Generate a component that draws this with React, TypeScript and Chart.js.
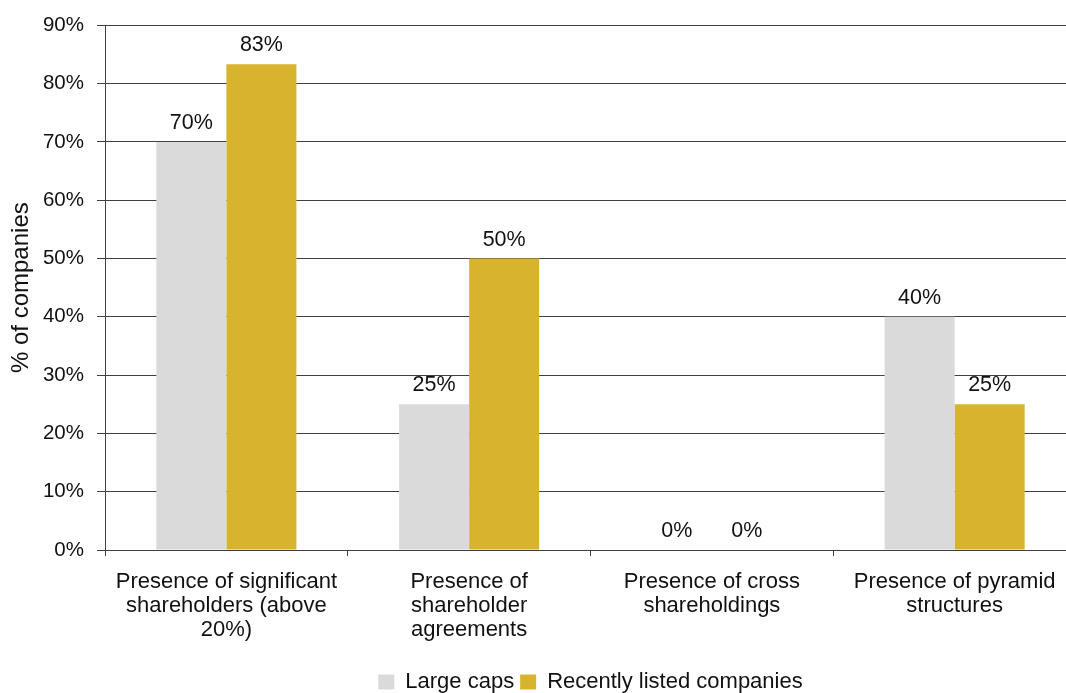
import React, { useEffect, useRef } from "react";
import { Chart, registerables } from "chart.js";

Chart.register(...registerables);

const categories: string[][] = [
  ["Presence of significant", "shareholders (above", "20%)"],
  ["Presence of", "shareholder", "agreements"],
  ["Presence of cross", "shareholdings"],
  ["Presence of pyramid", "structures"],
];
const seriesNames = ["Large caps", "Recently listed companies"];
const largeCaps = [70, 25, 0, 40];
const recentlyListed = [83.3, 50, 0, 25];
const yMin = 0;
const yMax = 90;
const yStep = 10;
const yTitle = "% of companies";

const FONT = "'Liberation Sans', Arial, Helvetica, sans-serif";
const TEXT = "#111111";
const LINE = "#404040";

const dataLabels = {
  id: "dataLabels",
  afterDatasetsDraw(chart: any) {
    const ctx = chart.ctx;
    ctx.save();
    ctx.font = `21.5px ${FONT}`;
    ctx.fillStyle = TEXT;
    ctx.textAlign = "center";
    ctx.textBaseline = "alphabetic";
    chart.data.datasets.forEach((ds: any, i: number) => {
      const meta = chart.getDatasetMeta(i);
      meta.data.forEach((el: any, j: number) => {
        const v = ds.data[j];
        ctx.fillText(Math.round(v) + "%", el.x, el.y - 13);
      });
    });
    ctx.restore();
  },
};

export default function App() {
  const ref = useRef<HTMLCanvasElement | null>(null);

  useEffect(() => {
    if (!ref.current) return;
    Chart.defaults.font.family = FONT;
    const chart = new Chart(ref.current, {
      type: "bar",
      data: {
        labels: categories,
        datasets: [
          {
            label: seriesNames[0],
            data: largeCaps,
            backgroundColor: "#dadada",
            borderWidth: 0,
            categoryPercentage: 0.577,
            barPercentage: 1,
          },
          {
            label: seriesNames[1],
            data: recentlyListed,
            backgroundColor: "#d8b32e",
            borderWidth: 0,
            categoryPercentage: 0.577,
            barPercentage: 1,
          },
        ],
      },
      options: {
        animation: false,
        responsive: false,
        devicePixelRatio: 1,
        layout: { padding: { top: 23, right: 4, bottom: 0, left: 0 } },
        plugins: {
          legend: {
            position: "bottom",
            fullSize: false,
            labels: {
              font: { size: 22, family: FONT },
              color: TEXT,
              boxWidth: 16,
              boxHeight: 15,
              padding: 6,
            },
          },
          tooltip: { enabled: false },
        },
        scales: {
          x: {
            grid: {
              display: true,
              drawOnChartArea: false,
              drawTicks: true,
              tickLength: 6,
              color: LINE,
              offset: true,
            },
            border: { display: true, color: LINE },
            ticks: {
              font: { size: 22, family: FONT, lineHeight: 24 / 22 },
              color: TEXT,
              padding: 14,
              maxRotation: 0,
              autoSkip: false,
            },
            afterFit(scale: any) {
              scale.height = 115;
            },
          },
          y: {
            min: yMin,
            max: yMax,
            grid: { color: LINE, tickLength: 8, drawTicks: true },
            border: { display: true, color: LINE },
            ticks: {
              stepSize: yStep,
              font: { size: 20.5, family: FONT },
              color: TEXT,
              padding: 13,
              callback: (v: any) => v + "%",
            },
            title: {
              display: true,
              text: yTitle,
              font: { size: 24, family: FONT },
              color: TEXT,
              padding: { top: 7, bottom: 0 },
            },
            afterFit(scale: any) {
              scale.width = 105;
            },
          },
        },
      },
      plugins: [dataLabels],
    });
    return () => chart.destroy();
  }, []);

  return (
    <div
      style={{
        position: "fixed",
        left: 0,
        top: 0,
        width: 1066,
        height: 693,
        overflow: "hidden",
        background: "#ffffff",
      }}
    >
      <canvas ref={ref} width={1080} height={703} />
    </div>
  );
}
